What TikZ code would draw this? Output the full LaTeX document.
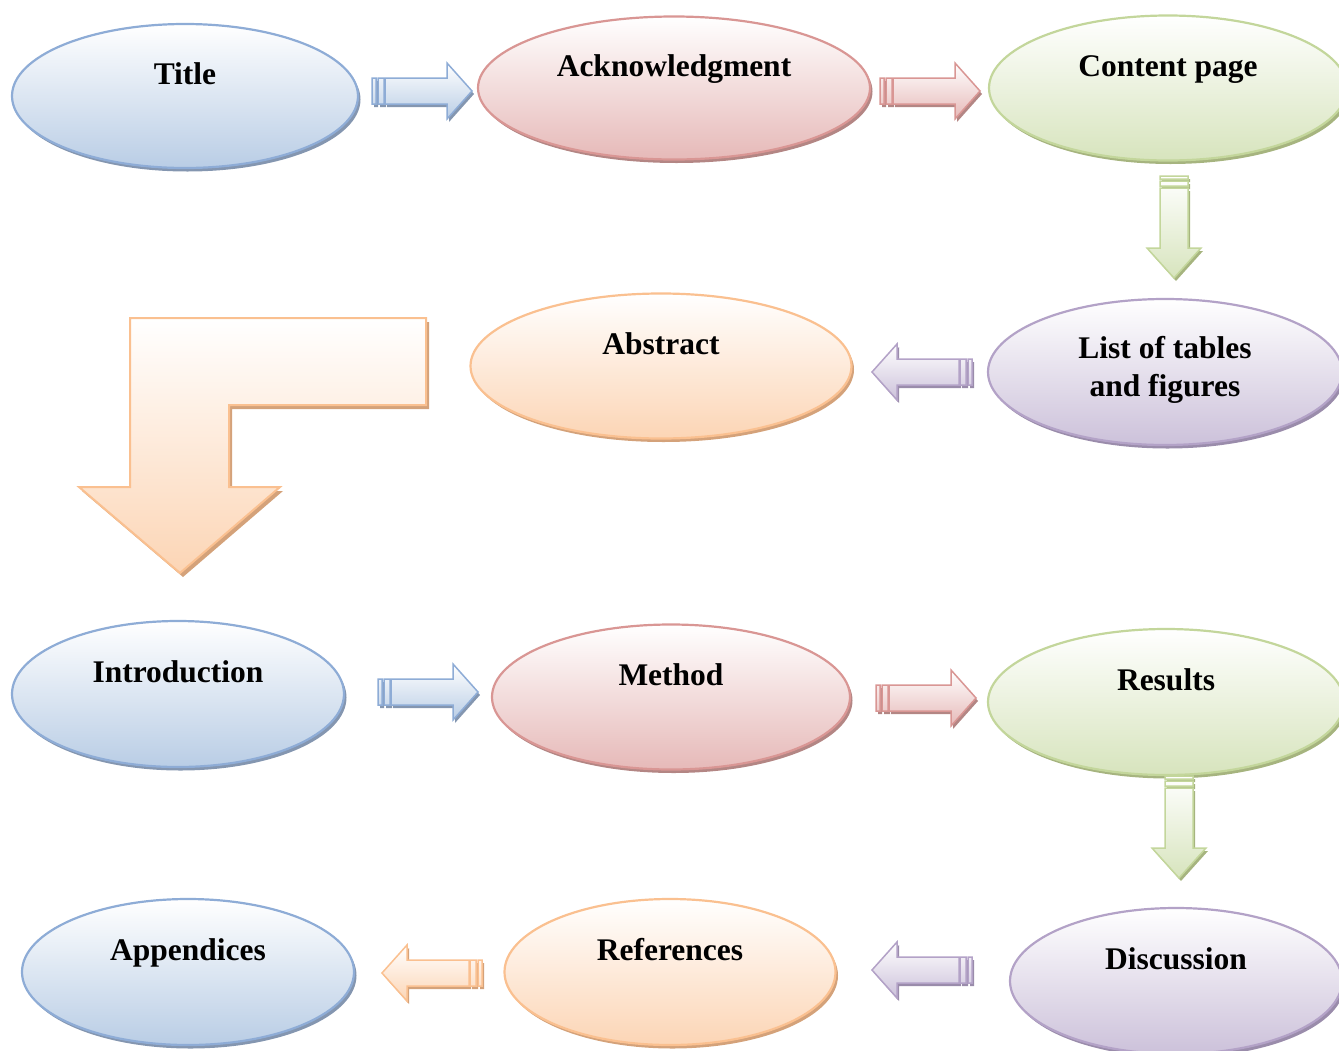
\documentclass[tikz,border=0pt]{standalone}
\usepackage{fontspec}
\setmainfont{Liberation Serif}
\usetikzlibrary{shapes.geometric}
\definecolor{blueL}{HTML}{8EACD6}\definecolor{blueF}{HTML}{B9CDE5}\definecolor{blueS}{HTML}{8496B0}
\definecolor{redL}{HTML}{D99694}\definecolor{redF}{HTML}{E6B9B8}\definecolor{redS}{HTML}{B38684}
\definecolor{greenL}{HTML}{C3D69B}\definecolor{greenF}{HTML}{D7E4BD}\definecolor{greenS}{HTML}{A6B47F}
\definecolor{purpleL}{HTML}{B3A2C7}\definecolor{purpleF}{HTML}{CCC1DA}\definecolor{purpleS}{HTML}{9A8CAB}
\definecolor{orangeL}{HTML}{FAC090}\definecolor{orangeF}{HTML}{FCD5B5}\definecolor{orangeS}{HTML}{D4A27A}
\begin{document}
\begin{tikzpicture}[x=1pt,y=-1pt,
  oval/.style={ellipse, inner sep=0pt, line width=2.2pt, draw=#1L, top color=white, bottom color=#1F,
    preaction={fill=#1S, transform canvas={xshift=2.5pt,yshift=-3.5pt}}},
  lbl/.style={font=\fontsize{31.5}{38}\selectfont\bfseries, align=center, inner sep=0pt,
    text height=22pt, text depth=7pt, yshift=19.5pt},
  arrshadow/.style={fill=#1S, transform canvas={xshift=2pt,yshift=-3pt}},
  arrbody/.style={line width=1.5pt, draw=#1L, top color=white, bottom color=#1F},
  pics/rarr/.style={code={
    \fill[arrshadow=#1] (0,-13) rectangle (4,13) (6,-13) rectangle (12,13)
      (13,-13) -- (75,-13) -- (75,-28) -- (100,0) -- (75,28) -- (75,13) -- (13,13) -- cycle;
    \draw[arrbody=#1] (0,-13) rectangle (4,13) (6,-13) rectangle (12,13)
      (13,-13) -- (75,-13) -- (75,-28) -- (100,0) -- (75,28) -- (75,13) -- (13,13) -- cycle;}},
  pics/larr/.style={code={
    \fill[arrshadow=#1] (100,-13) rectangle (96,13) (94,-13) rectangle (88,13)
      (87,-13) -- (25,-13) -- (25,-28) -- (0,0) -- (25,28) -- (25,13) -- (87,13) -- cycle;
    \draw[arrbody=#1] (100,-13) rectangle (96,13) (94,-13) rectangle (88,13)
      (87,-13) -- (25,-13) -- (25,-28) -- (0,0) -- (25,28) -- (25,13) -- (87,13) -- cycle;}},
  pics/darr/.style={code={
    \fill[arrshadow=#1] (-14,0) rectangle (14,3) (-14,5) rectangle (14,10)
      (-14,12) -- (-14,72) -- (-27,72) -- (0,102) -- (27,72) -- (14,72) -- (14,12) -- cycle;
    \draw[arrbody=#1] (-14,0) rectangle (14,3) (-14,5) rectangle (14,10)
      (-14,12) -- (-14,72) -- (-27,72) -- (0,102) -- (27,72) -- (14,72) -- (14,12) -- cycle;}}
]
\useasboundingbox (0,0) rectangle (1339,1050);
% ellipses
\node[oval=blue, minimum width=346pt, minimum height=144pt] (title) at (185,96) {};
\node[lbl] at (title.center) {Title};
\node[oval=red, minimum width=392pt, minimum height=143pt] (ack) at (674,88) {};
\node[lbl] at (ack.center) {Acknowledgment};
\node[oval=green, minimum width=358pt, minimum height=145pt] (content) at (1168,88) {};
\node[lbl] at (content.center) {Content page};
\node[oval=orange, minimum width=381pt, minimum height=145pt] (abstract) at (661,366) {};
\node[lbl] at (abstract.center) {Abstract};
\node[oval=purple, minimum width=354pt, minimum height=146pt] (list) at (1165,372) {};
\node[lbl, yshift=-36pt] at (list.center) {List of tables\\and figures};
\node[oval=blue, minimum width=332pt, minimum height=146pt] (intro) at (178,694) {};
\node[lbl] at (intro.center) {Introduction};
\node[oval=red, minimum width=358pt, minimum height=145pt] (method) at (671,697) {};
\node[lbl] at (method.center) {Method};
\node[oval=green, minimum width=356pt, minimum height=146pt] (results) at (1166,702) {};
\node[lbl] at (results.center) {Results};
\node[oval=blue, minimum width=332pt, minimum height=146pt] (app) at (188,972) {};
\node[lbl] at (app.center) {Appendices};
\node[oval=orange, minimum width=331pt, minimum height=146pt] (refs) at (670,972) {};
\node[lbl] at (refs.center) {References};
\node[oval=purple, minimum width=332pt, minimum height=146pt] (disc) at (1176,981) {};
\node[lbl] at (disc.center) {Discussion};
% block arrows
\pic at (372,91) {rarr=blue};
\pic at (880,91) {rarr=red};
\pic at (1174,176) {darr=green};
\pic at (872,372) {larr=purple};
\pic at (378,692) {rarr=blue};
\pic at (876,698) {rarr=red};
\pic at (1179,776) {darr=green};
\pic at (872,970) {larr=purple};
\pic at (382,973) {larr=orange};
% bent arrow
\fill[orangeS, transform canvas={xshift=3pt,yshift=-4pt}] (130,318) -- (426,318) -- (426,405) -- (229,405) -- (229,487) -- (280,487) -- (180,573) -- (79,487) -- (130,487) -- cycle;
\draw[line width=2pt, draw=orangeL, top color=white, bottom color=orangeF] (130,318) -- (426,318) -- (426,405) -- (229,405) -- (229,487) -- (280,487) -- (180,573) -- (79,487) -- (130,487) -- cycle;
\end{tikzpicture}
\end{document}
